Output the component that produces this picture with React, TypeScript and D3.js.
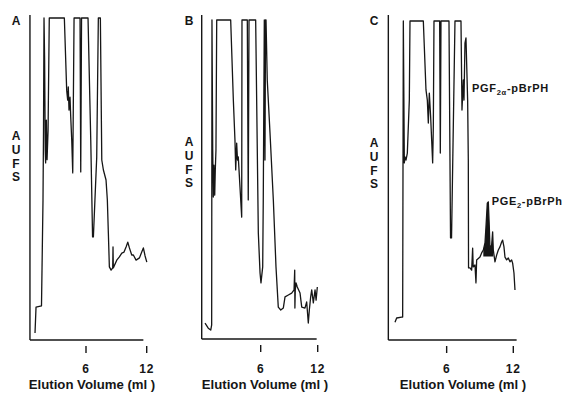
import React from "react";
import * as d3 from "d3";

// ---------- data ----------
const panelLetters = ["A", "B", "C"];
const yAxisLetters = ["A", "U", "F", "S"];
const tickValues = [6, 12];
const tickLabels = ["6", "12"];
const xAxisTitle = "Elution Volume (ml )";

// [elution volume (ml), relative absorbance (1 = full scale)]
const traceA: [number, number][] = [
  [0.96, 0.022], [1.06, 0.102], [1.6, 0.106], [1.68, 0.28], [1.75, 0.435], [1.8, 0.652], [1.85, 1.0],
  [1.91, 0.87], [1.97, 0.59], [2.01, 0.55], [2.08, 0.683], [2.15, 0.56], [2.25, 0.65], [2.37, 1.0],
  [3.86, 1.0], [4.09, 0.776], [4.19, 0.745], [4.25, 0.786], [4.32, 0.714], [4.42, 0.754], [4.49, 0.693],
  [4.59, 0.621], [4.69, 0.519], [4.82, 1.0], [5.41, 1.0], [5.48, 0.522], [5.56, 1.0], [6.2, 1.0],
  [6.47, 0.621], [6.65, 0.32], [6.73, 0.32], [7.06, 0.568], [7.22, 1.0], [7.42, 1.0], [7.56, 0.559],
  [7.72, 0.528], [7.98, 0.497], [8.11, 0.435], [8.21, 0.332], [8.31, 0.227], [8.48, 0.217], [8.64, 0.224],
  [8.67, 0.289], [8.7, 0.224], [9.04, 0.248], [9.3, 0.258], [9.54, 0.27], [9.76, 0.273], [9.96, 0.289],
  [10.13, 0.304], [10.29, 0.286], [10.52, 0.264], [10.68, 0.264], [10.95, 0.248], [11.28, 0.255],
  [11.51, 0.273], [11.67, 0.286], [11.84, 0.261], [12.01, 0.242],
];

const traceB: [number, number][] = [
  [0.14, 0.05], [0.48, 0.034], [0.74, 0.028], [0.84, 0.044], [0.87, 1.0], [0.95, 0.592], [1.01, 0.445],
  [1.08, 0.545], [1.16, 0.451], [1.22, 0.53], [1.29, 0.592], [1.37, 1.0], [2.84, 1.0], [3.12, 0.749],
  [3.29, 0.624], [3.37, 0.53], [3.47, 0.614], [3.56, 0.561], [3.64, 0.571], [3.82, 0.476], [4.0, 0.382],
  [4.03, 1.0], [4.59, 1.0], [4.69, 0.436], [4.77, 1.0], [5.47, 1.0], [5.75, 0.332], [5.93, 0.207],
  [6.03, 0.176], [6.21, 0.226], [6.27, 0.436], [6.38, 1.0], [6.45, 0.561], [6.51, 1.0], [6.56, 1.0],
  [6.69, 0.812], [6.98, 0.646], [7.33, 0.436], [7.61, 0.226], [7.85, 0.1], [8.11, 0.091], [8.38, 0.097],
  [8.56, 0.132], [8.91, 0.138], [9.26, 0.144], [9.51, 0.154], [9.58, 0.216], [9.6, 0.097], [9.64, 0.154],
  [9.72, 0.176], [9.85, 0.163], [10.14, 0.144], [10.32, 0.1], [10.66, 0.097], [10.84, 0.116],
  [11.01, 0.05], [11.12, 0.091], [11.26, 0.132], [11.37, 0.154], [11.54, 0.113], [11.72, 0.154],
  [11.83, 0.122], [11.96, 0.163],
];

const traceC: [number, number][] = [
  [1.35, 0.056], [1.5, 0.069], [1.95, 0.072], [2.04, 0.072], [2.1, 1.0], [2.19, 0.555], [2.25, 0.574],
  [2.34, 0.564], [2.46, 0.586], [2.64, 0.752], [2.7, 1.0], [3.9, 1.0], [4.14, 0.784], [4.26, 0.752],
  [4.35, 0.68], [4.44, 0.774], [4.56, 0.699], [4.74, 0.555], [4.8, 0.668], [4.86, 1.0], [5.37, 1.0],
  [5.43, 0.586], [5.49, 1.0], [6.21, 1.0], [6.35, 0.32], [6.44, 0.32], [6.75, 1.0], [7.29, 1.0],
  [7.38, 0.721], [7.5, 0.815], [7.56, 0.752], [7.65, 0.931], [7.74, 0.947], [7.89, 0.752], [7.95, 0.564],
  [7.97, 0.226], [8.1, 0.226], [8.25, 0.219], [8.34, 0.288], [8.39, 0.229], [8.55, 0.235], [8.64, 0.179],
  [8.7, 0.251], [9.0, 0.26], [9.15, 0.273], [9.3, 0.282], [9.45, 0.304], [9.54, 0.354], [9.66, 0.429],
  [9.75, 0.433], [9.84, 0.354], [9.9, 0.288], [10.05, 0.298], [10.14, 0.339], [10.2, 0.282], [10.35, 0.245],
  [10.5, 0.266], [10.65, 0.282], [10.8, 0.292], [10.95, 0.307], [11.04, 0.313], [11.16, 0.292],
  [11.25, 0.26], [11.4, 0.251], [11.55, 0.257], [11.7, 0.245], [11.85, 0.251], [11.94, 0.241],
  [12.06, 0.21], [12.15, 0.157],
];

// shaded PGE2 peak in panel C
const peakC: [number, number][] = [
  [9.3, 0.282], [9.45, 0.304], [9.54, 0.354], [9.66, 0.429], [9.75, 0.433], [9.84, 0.354], [9.9, 0.288],
  [10.05, 0.298], [10.14, 0.339], [10.2, 0.282],
];
const peakBase = 0.262;

const annotC = [
  { main: "PGF", sub: "2α", rest: "-pBrPH" },
  { main: "PGE", sub: "2", rest: "-pBrPh" },
];

const traces = [traceA, traceB, traceC];

// ---------- layout ----------
const layout = [
  { x0: 25.3, x12: 146.7, axFrom: 0.46, axTo: 11.67, yTop: 18, yBot: 340, axTop: 15,
    letterX: 16, letterY: 25, aufsX: 16, aufsY0: 140, titleX: 92, titleY: 389 },
  { x0: 203.7, x12: 317.7, axFrom: -0.21, axTo: 11.89, yTop: 20, yBot: 339, axTop: 15,
    letterX: 189, letterY: 25, aufsX: 189, aufsY0: 146, titleX: 265, titleY: 389 },
  { x0: 380, x12: 513.3, axFrom: 0.75, axTo: 12.3, yTop: 21, yBot: 340, axTop: 15,
    letterX: 374, letterY: 25, aufsX: 374, aufsY0: 147, titleX: 463, titleY: 389 },
];
const annotPos = [
  { x: 8.28, y: 0.777 },
  { x: 10.05, y: 0.423 },
];

const FONT = "'Liberation Sans', Arial, Helvetica, sans-serif";
const INK = "#161616";

function Panel({ i }: { i: number }) {
  const L = layout[i];
  const x = d3.scaleLinear().domain([0, 12]).range([L.x0, L.x12]);
  const y = d3.scaleLinear().domain([0, 1]).range([L.yBot, L.yTop]);
  const line = d3.line<[number, number]>().x((d) => x(d[0])).y((d) => y(d[1]));
  const axL = x(L.axFrom);
  return (
    <g>
      <text x={L.letterX} y={L.letterY} textAnchor="middle" fontSize={12} fontWeight="bold" fill={INK}>
        {panelLetters[i]}
      </text>
      {yAxisLetters.map((c, k) => (
        <text key={k} x={L.aufsX} y={L.aufsY0 + k * 13.8} textAnchor="middle" fontSize={12} fontWeight="bold" fill={INK}>
          {c}
        </text>
      ))}
      <line x1={axL} x2={axL} y1={L.axTop} y2={L.yBot} stroke={INK} strokeWidth={1.4} />
      <line x1={axL} x2={x(L.axTo)} y1={L.yBot} y2={L.yBot} stroke={INK} strokeWidth={1.7} />
      {tickValues.map((t, k) => (
        <g key={k}>
          <line x1={x(t)} x2={x(t)} y1={L.yBot + 6} y2={L.yBot + 13} stroke={INK} strokeWidth={1.4} />
          <text x={x(t)} y={373} textAnchor="middle" fontSize={12} fontWeight="bold" letterSpacing={0.8} fill={INK}>
            {tickLabels[k]}
          </text>
        </g>
      ))}
      <text x={L.titleX} y={L.titleY} textAnchor="middle" fontSize={13.2} fontWeight="bold" fill={INK}>
        {xAxisTitle}
      </text>
      {i === 2 && (
        <path
          d={d3.area<[number, number]>().x((d) => x(d[0])).y0(y(peakBase)).y1((d) => y(d[1]))(peakC) || ""}
          fill={INK}
        />
      )}
      <path d={line(traces[i]) || ""} fill="none" stroke={INK} strokeWidth={1.3} strokeLinejoin="round" />
      {i === 2 &&
        annotC.map((a, k) => (
          <text key={k} x={x(annotPos[k].x)} y={y(annotPos[k].y)} fontSize={11} fontWeight="bold" letterSpacing={0.7} fill={INK}>
            {a.main}
            <tspan fontSize={7.5} dy={3}>{a.sub}</tspan>
            <tspan dy={-3}>{a.rest}</tspan>
          </text>
        ))}
    </g>
  );
}

export default function App() {
  return (
    <svg
      width={566}
      height={395}
      style={{ position: "absolute", left: 0, top: 0, background: "#fff", fontFamily: FONT }}
    >
      <rect width={566} height={395} fill="#fff" />
      {[0, 1, 2].map((i) => (
        <Panel key={i} i={i} />
      ))}
    </svg>
  );
}
